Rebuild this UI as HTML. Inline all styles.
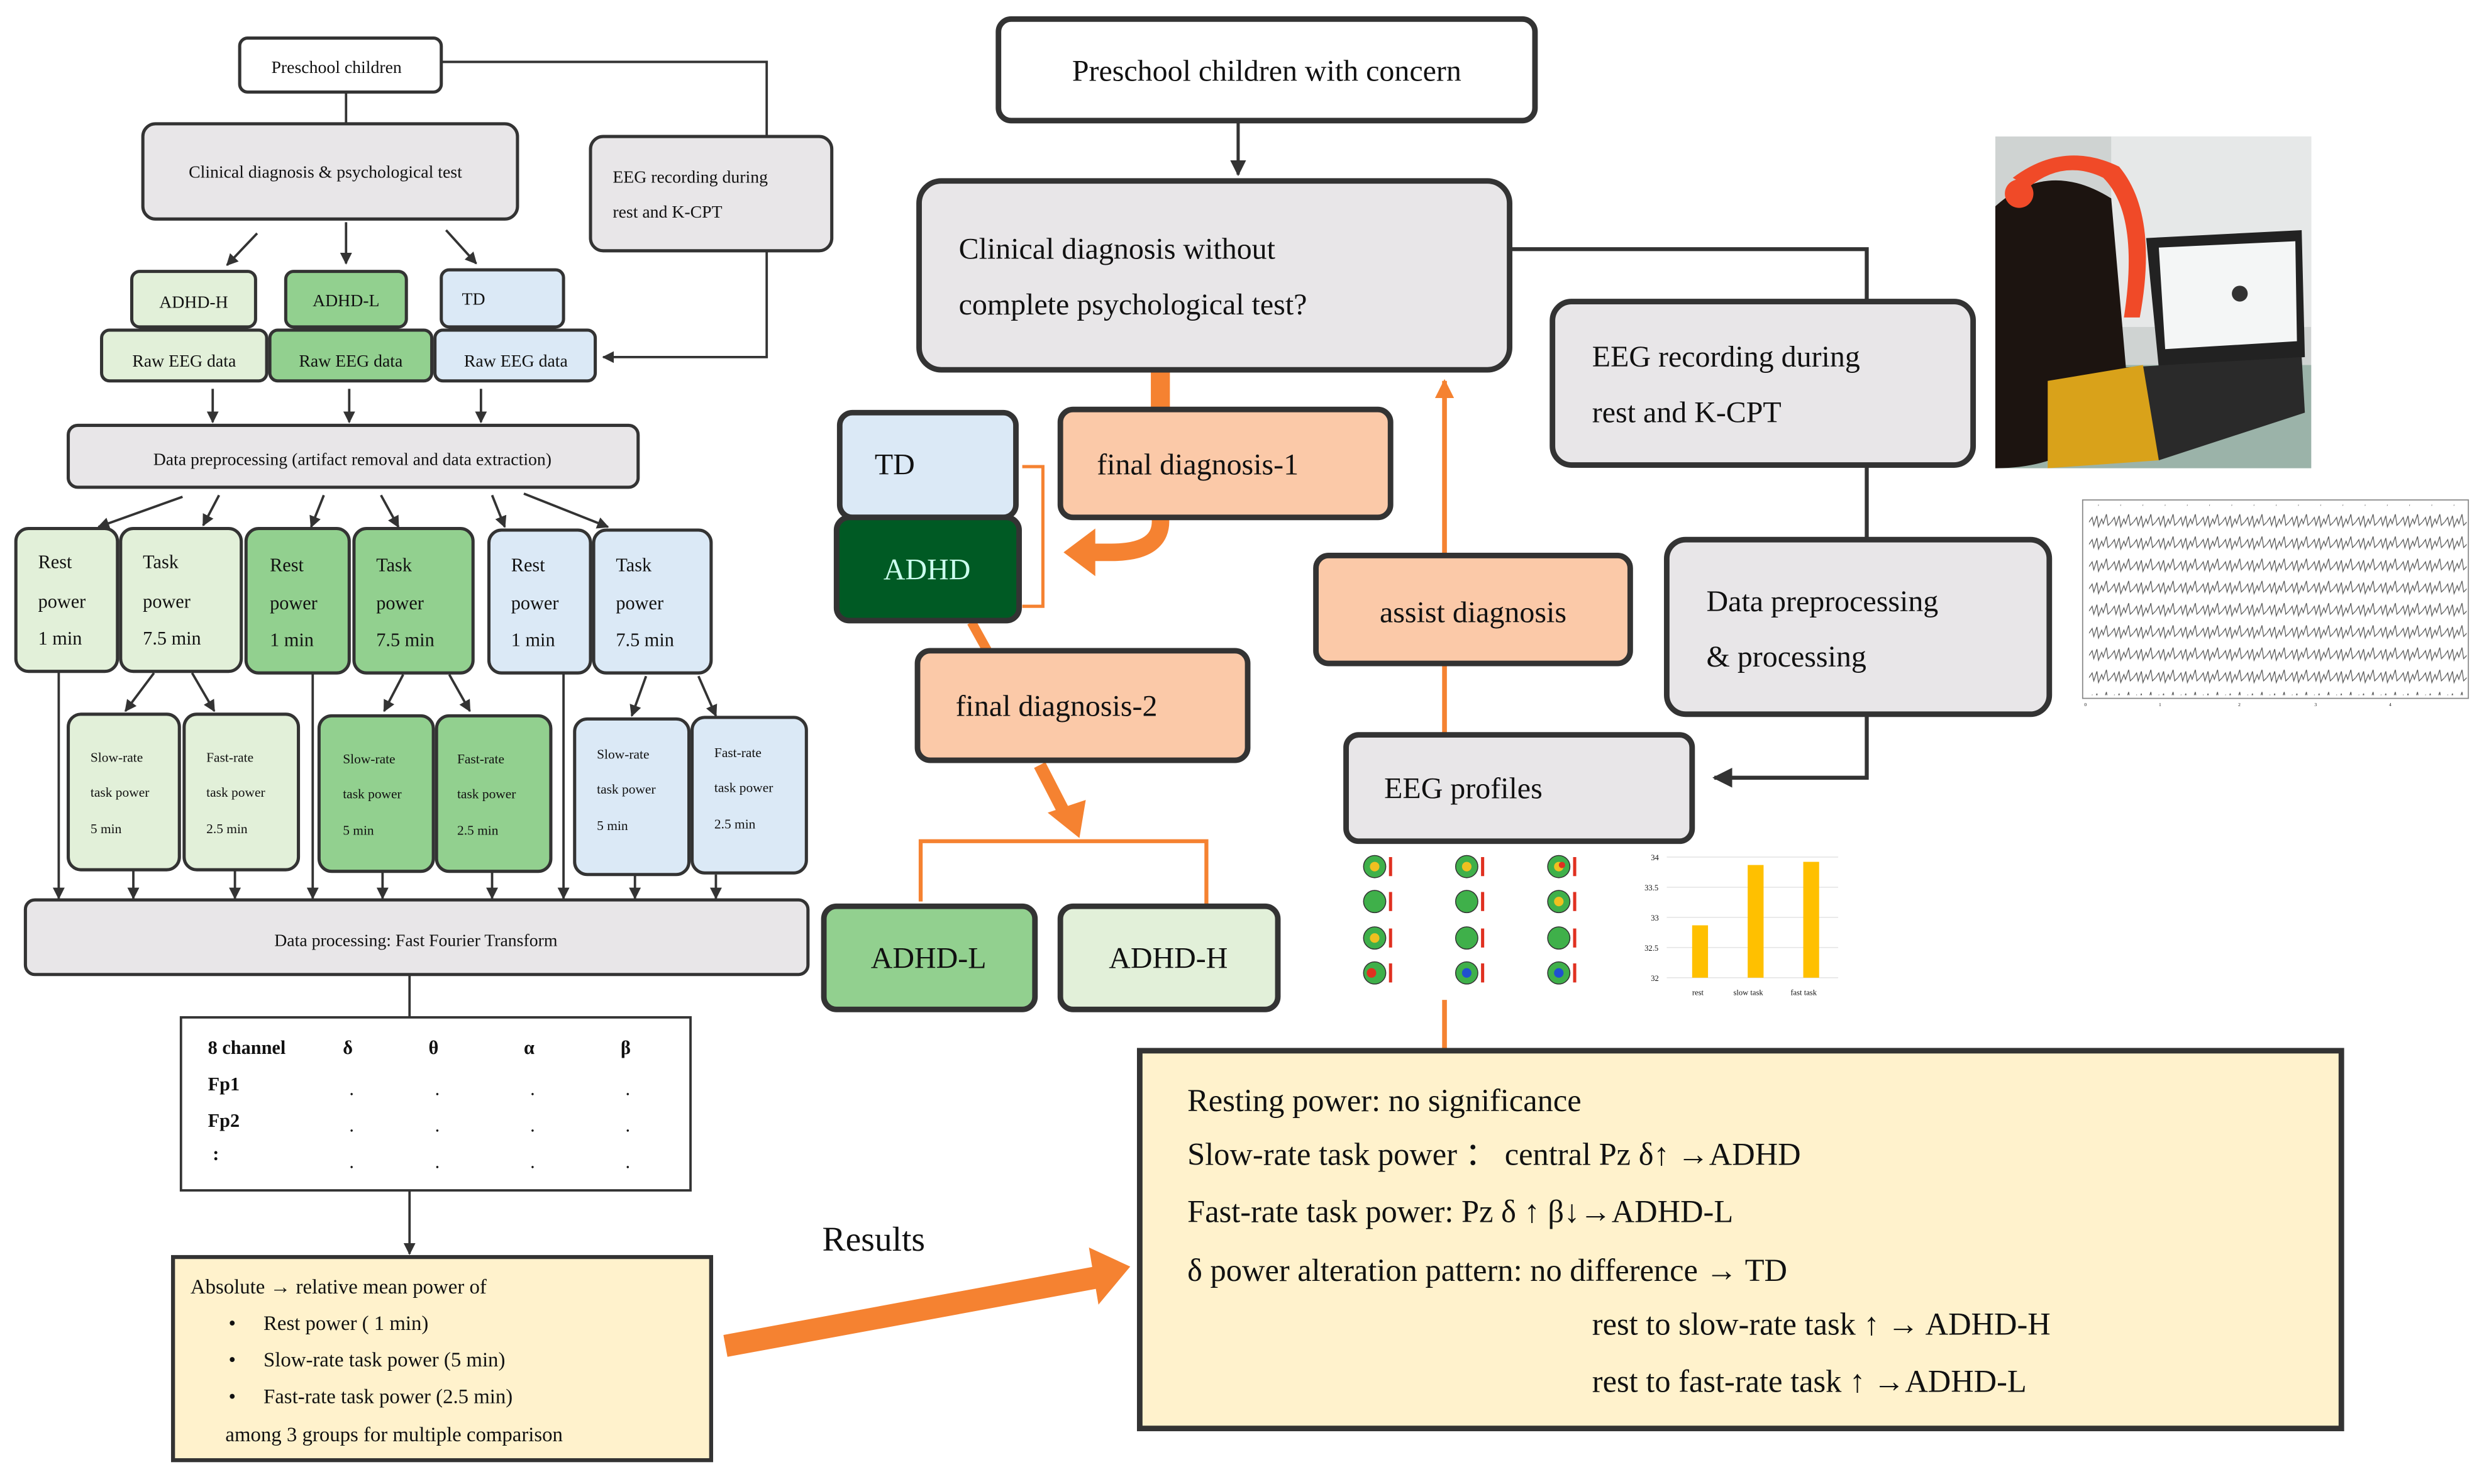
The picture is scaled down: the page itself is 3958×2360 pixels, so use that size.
<!DOCTYPE html>
<html><head><meta charset="utf-8"><style>
html,body{margin:0;padding:0;background:#fff;}
svg{display:block;}
text{font-family:"Liberation Serif",serif;fill:#111;}
</style></head><body>
<svg width="3958" height="2360" viewBox="0 0 1568 935" preserveAspectRatio="none" xmlns="http://www.w3.org/2000/svg">
<defs>
<marker id="ah" viewBox="0 0 10 10" refX="9" refY="5" markerWidth="5" markerHeight="5" orient="auto"><path d="M0,0L10,5L0,10z" fill="#333"/></marker>
<marker id="oh" viewBox="0 0 10 10" refX="9" refY="5" markerWidth="4" markerHeight="4" orient="auto"><path d="M0,0L10,5L0,10z" fill="#f58231"/></marker>
<pattern id="wave" width="14" height="14" patternUnits="userSpaceOnUse"><path d="M0,7 L2,4 L3,9 L5,3 L6,10 L8,5 L9,8 L11,2 L12,9 L14,7" fill="none" stroke="#555" stroke-width="0.5"/></pattern>
</defs>
<g fill="none" stroke="#333" stroke-width="1.5">
<!-- left flow lines -->
<polyline points="278,39 483,39 483,86"/>
<line x1="218" y1="58" x2="218" y2="78"/>
<polyline points="483,158 483,225 380,225" marker-end="url(#ah)"/>
<line x1="162" y1="147" x2="143" y2="167" marker-end="url(#ah)"/>
<line x1="218" y1="140" x2="218" y2="166" marker-end="url(#ah)"/>
<line x1="281" y1="145" x2="300" y2="166" marker-end="url(#ah)"/>
<line x1="134" y1="245" x2="134" y2="266" marker-end="url(#ah)"/>
<line x1="220" y1="245" x2="220" y2="266" marker-end="url(#ah)"/>
<line x1="303" y1="245" x2="303" y2="266" marker-end="url(#ah)"/>
<line x1="115" y1="313" x2="62" y2="332" marker-end="url(#ah)"/>
<line x1="138" y1="312" x2="128" y2="331" marker-end="url(#ah)"/>
<line x1="204" y1="312" x2="196" y2="332" marker-end="url(#ah)"/>
<line x1="240" y1="312" x2="251" y2="332" marker-end="url(#ah)"/>
<line x1="310" y1="312" x2="318" y2="332" marker-end="url(#ah)"/>
<line x1="330" y1="311" x2="383" y2="332" marker-end="url(#ah)"/>
<line x1="37" y1="423" x2="37" y2="566" marker-end="url(#ah)"/>
<line x1="197" y1="423" x2="197" y2="566" marker-end="url(#ah)"/>
<line x1="355" y1="423" x2="355" y2="566" marker-end="url(#ah)"/>
<line x1="97" y1="424" x2="79" y2="448" marker-end="url(#ah)"/>
<line x1="121" y1="424" x2="135" y2="448" marker-end="url(#ah)"/>
<line x1="254" y1="425" x2="242" y2="448" marker-end="url(#ah)"/>
<line x1="283" y1="425" x2="296" y2="448" marker-end="url(#ah)"/>
<line x1="407" y1="426" x2="398" y2="451" marker-end="url(#ah)"/>
<line x1="440" y1="426" x2="451" y2="451" marker-end="url(#ah)"/>
<line x1="84" y1="548" x2="84" y2="566" marker-end="url(#ah)"/>
<line x1="148" y1="548" x2="148" y2="566" marker-end="url(#ah)"/>
<line x1="241" y1="549" x2="241" y2="566" marker-end="url(#ah)"/>
<line x1="310" y1="549" x2="310" y2="566" marker-end="url(#ah)"/>
<line x1="400" y1="551" x2="400" y2="566" marker-end="url(#ah)"/>
<line x1="451" y1="551" x2="451" y2="566" marker-end="url(#ah)"/>
<line x1="258" y1="614" x2="258" y2="641"/>
<line x1="258" y1="750" x2="258" y2="790" marker-end="url(#ah)"/>
<!-- right flow -->
<line x1="780" y1="76" x2="780" y2="110" stroke-width="2" marker-end="url(#ah)"/>
<polyline points="951,157 1176,157 1176,190" stroke-width="2.5"/>
<line x1="1176" y1="293" x2="1176" y2="340" stroke-width="2.5"/>
<polyline points="1176,450 1176,490 1080,490" stroke-width="2.5" marker-end="url(#ah)"/>
</g>
<!-- orange connectors -->
<g fill="none" stroke="#f58231">
<line x1="910" y1="463" x2="910" y2="418" stroke-width="3"/>
<line x1="910" y1="350" x2="910" y2="240" stroke-width="3" marker-end="url(#oh)"/>
<line x1="910" y1="630" x2="910" y2="662" stroke-width="3"/>
<line x1="731" y1="233" x2="731" y2="258" stroke-width="12"/>
<path d="M731,326 Q733,348 700,348 L685,348" stroke-width="11"/>
<polyline points="644,294 657,294 657,382 644,382" stroke-width="2"/>
<line x1="612" y1="392" x2="622" y2="410" stroke-width="6"/>
<line x1="655" y1="482" x2="672" y2="515" stroke-width="8"/>
<polyline points="580,568 580,530 760,530 760,570" stroke-width="2.5"/>
<line x1="457" y1="848" x2="690" y2="805" stroke-width="14"/>
</g>
<path d="M670,348 L690,333 L690,363 Z" fill="#f58231"/>
<path d="M660,512 L684,504 L680,528 Z" fill="#f58231"/>
<path d="M712,798 L686,786 L692,822 Z" fill="#f58231"/>
<!-- left boxes -->
<g stroke="#333" stroke-width="2">
<rect x="151" y="24" width="127" height="34" rx="5" fill="#fff"/>
<rect x="90" y="78" width="236" height="60" rx="8" fill="#e8e6e8"/>
<rect x="372" y="86" width="152" height="72" rx="8" fill="#e8e6e8"/>
<rect x="83" y="171" width="78" height="35" rx="5" fill="#e2f0d9"/>
<rect x="180" y="171" width="76" height="35" rx="5" fill="#92d08f"/>
<rect x="278" y="170" width="77" height="36" rx="5" fill="#dbe9f6"/>
<rect x="64" y="208" width="104" height="32" rx="5" fill="#e2f0d9"/>
<rect x="170" y="208" width="102" height="32" rx="5" fill="#92d08f"/>
<rect x="274" y="208" width="101" height="32" rx="5" fill="#dbe9f6"/>
<rect x="43" y="268" width="359" height="39" rx="6" fill="#e8e6e8"/>
<rect x="10" y="333" width="64" height="90" rx="8" fill="#e2f0d9"/>
<rect x="76" y="333" width="76" height="90" rx="8" fill="#e2f0d9"/>
<rect x="155" y="333" width="65" height="91" rx="8" fill="#92d08f"/>
<rect x="223" y="333" width="75" height="91" rx="8" fill="#92d08f"/>
<rect x="308" y="334" width="64" height="90" rx="8" fill="#dbe9f6"/>
<rect x="374" y="334" width="74" height="90" rx="8" fill="#dbe9f6"/>
<rect x="43" y="450" width="70" height="98" rx="8" fill="#e2f0d9"/>
<rect x="116" y="450" width="72" height="98" rx="8" fill="#e2f0d9"/>
<rect x="201" y="451" width="72" height="98" rx="8" fill="#92d08f"/>
<rect x="275" y="451" width="72" height="98" rx="8" fill="#92d08f"/>
<rect x="362" y="453" width="72" height="98" rx="8" fill="#dbe9f6"/>
<rect x="436" y="452" width="72" height="98" rx="8" fill="#dbe9f6"/>
<rect x="16" y="567" width="493" height="47" rx="6" fill="#e8e6e8"/>
<rect x="114" y="641" width="321" height="109" fill="#fff" stroke-width="1.5"/>
<rect x="109" y="792" width="339" height="128" fill="#fff2cc" stroke-width="2.5"/>
</g>
<!-- right boxes -->
<g stroke="#333" stroke-width="3.5">
<rect x="629" y="12" width="338" height="64" rx="8" fill="#fff"/>
<rect x="579" y="114" width="372" height="119" rx="14" fill="#e8e6e8"/>
<rect x="978" y="190" width="265" height="103" rx="12" fill="#e8e6e8"/>
<rect x="1050" y="340" width="241" height="110" rx="12" fill="#e8e6e8"/>
<rect x="848" y="463" width="218" height="67" rx="8" fill="#e8e6e8"/>
<rect x="829" y="350" width="198" height="68" rx="8" fill="#fbc9a8"/>
<rect x="668" y="258" width="208" height="68" rx="8" fill="#fbc9a8"/>
<rect x="529" y="260" width="111" height="66" rx="8" fill="#dbe9f6"/>
<rect x="527" y="326" width="115" height="65" rx="8" fill="#005a24"/>
<rect x="578" y="410" width="208" height="69" rx="8" fill="#fbc9a8"/>
<rect x="519" y="571" width="133" height="65" rx="8" fill="#92d08f"/>
<rect x="668" y="571" width="137" height="65" rx="8" fill="#e2f0d9"/>
<rect x="718" y="662" width="757" height="238" fill="#fff2cc"/>
</g>
<!-- left texts -->
<g font-size="11">
<text x="212" y="46" text-anchor="middle">Preschool children</text>
<text x="205" y="112" text-anchor="middle">Clinical diagnosis &amp; psychological test</text>
<text x="386" y="115">EEG recording during</text>
<text x="386" y="137">rest and K-CPT</text>
<text x="122" y="194" text-anchor="middle">ADHD-H</text>
<text x="218" y="193" text-anchor="middle">ADHD-L</text>
<text x="291" y="192">TD</text>
<text x="116" y="231" text-anchor="middle">Raw EEG data</text>
<text x="221" y="231" text-anchor="middle">Raw EEG data</text>
<text x="325" y="231" text-anchor="middle">Raw EEG data</text>
<text x="222" y="293" text-anchor="middle">Data preprocessing (artifact removal and data extraction)</text>
<text x="262" y="596" text-anchor="middle">Data processing: Fast Fourier Transform</text>
</g>
<g font-size="12">
<text x="24" y="358">Rest</text><text x="24" y="383">power</text><text x="24" y="406">1 min</text>
<text x="90" y="358">Task</text><text x="90" y="383">power</text><text x="90" y="406">7.5 min</text>
<text x="170" y="360">Rest</text><text x="170" y="384">power</text><text x="170" y="407">1 min</text>
<text x="237" y="360">Task</text><text x="237" y="384">power</text><text x="237" y="407">7.5 min</text>
<text x="322" y="360">Rest</text><text x="322" y="384">power</text><text x="322" y="407">1 min</text>
<text x="388" y="360">Task</text><text x="388" y="384">power</text><text x="388" y="407">7.5 min</text>
</g>
<g font-size="8.5">
<text x="57" y="480">Slow-rate</text><text x="57" y="502">task power</text><text x="57" y="525">5 min</text>
<text x="130" y="480">Fast-rate</text><text x="130" y="502">task power</text><text x="130" y="525">2.5 min</text>
<text x="216" y="481">Slow-rate</text><text x="216" y="503">task power</text><text x="216" y="526">5 min</text>
<text x="288" y="481">Fast-rate</text><text x="288" y="503">task power</text><text x="288" y="526">2.5 min</text>
<text x="376" y="478">Slow-rate</text><text x="376" y="500">task power</text><text x="376" y="523">5 min</text>
<text x="450" y="477">Fast-rate</text><text x="450" y="499">task power</text><text x="450" y="522">2.5 min</text>
</g>
<g font-size="12" font-weight="bold">
<text x="131" y="664">8 channel</text><text x="216" y="664">δ</text><text x="270" y="664">θ</text><text x="330" y="664">α</text><text x="391" y="664">β</text>
<text x="131" y="687">Fp1</text><text x="131" y="710">Fp2</text><text x="134" y="731">:</text>
</g>
<g font-size="12">
<text x="220" y="690">.</text><text x="274" y="690">.</text><text x="334" y="690">.</text><text x="394" y="690">.</text>
<text x="220" y="713">.</text><text x="274" y="713">.</text><text x="334" y="713">.</text><text x="394" y="713">.</text>
<text x="220" y="736">.</text><text x="274" y="736">.</text><text x="334" y="736">.</text><text x="394" y="736">.</text>
</g>
<g font-size="13">
<text x="120" y="815">Absolute → relative mean power of</text>
<text x="144" y="838">•</text><text x="166" y="838">Rest power ( 1 min)</text>
<text x="144" y="861">•</text><text x="166" y="861">Slow-rate task power (5 min)</text>
<text x="144" y="884">•</text><text x="166" y="884">Fast-rate task power (2.5 min)</text>
<text x="142" y="908">among 3 groups for multiple comparison</text>
</g>
<!-- right texts -->
<g font-size="19">
<text x="798" y="51" text-anchor="middle">Preschool children with concern</text>
<text x="604" y="163">Clinical diagnosis without</text>
<text x="604" y="198">complete psychological test?</text>
<text x="1003" y="231">EEG recording   during</text>
<text x="1003" y="266">rest and K-CPT</text>
<text x="1075" y="385">Data preprocessing</text>
<text x="1075" y="420">&amp; processing</text>
<text x="872" y="503">EEG profiles</text>
<text x="928" y="392" text-anchor="middle">assist diagnosis</text>
<text x="691" y="299">final diagnosis-1</text>
<text x="551" y="299">TD</text>
<text x="584" y="365" text-anchor="middle" style="fill:#cfe">ADHD</text>
<text x="602" y="451">final diagnosis-2</text>
<text x="585" y="610" text-anchor="middle">ADHD-L</text>
<text x="736" y="610" text-anchor="middle">ADHD-H</text>
<text x="518" y="788" font-size="22">Results</text>
</g>
<g font-size="20">
<text x="748" y="700">Resting power: no significance</text>
<text x="748" y="734">Slow-rate task power ： central Pz δ↑ →ADHD</text>
<text x="748" y="770">Fast-rate task power:  Pz δ ↑ β↓→ADHD-L</text>
<text x="748" y="807">δ power alteration pattern: no difference → TD</text>
<text x="1003" y="841">rest to slow-rate task  ↑   → ADHD-H</text>
<text x="1003" y="877">rest to fast-rate task  ↑ →ADHD-L</text>
</g>
<!-- photo -->
<rect x="1257" y="86" width="199" height="209" fill="#cfd3d2"/>
<rect x="1330" y="86" width="126" height="120" fill="#e6e8e8"/>
<rect x="1257" y="230" width="199" height="65" fill="#9bb3a9"/>
<path d="M1352,150 L1450,145 L1452,225 L1360,232 Z" fill="#222"/>
<path d="M1360,156 L1446,152 L1447,215 L1364,220 Z" fill="#f4f6f6"/>
<circle cx="1411" cy="185" r="5" fill="#333"/>
<path d="M1330,232 L1450,225 L1452,260 L1360,290 L1330,270 Z" fill="#2a2a2a"/>
<path d="M1257,130 Q1290,100 1330,125 L1340,240 Q1320,295 1257,295 Z" fill="#1c1410"/>
<path d="M1290,240 L1350,230 L1360,290 L1290,295 Z" fill="#d9a21a"/>
<path d="M1268,112 Q1300,88 1335,105 Q1360,135 1348,200 L1338,200 Q1348,135 1325,112 Q1300,100 1278,118 Z" fill="#f04a28"/>
<circle cx="1272" cy="122" r="9" fill="#f04a28"/>
<!-- EEG plot -->
<rect x="1312" y="315" width="243" height="125" fill="#fff" stroke="#888" stroke-width="0.7"/>
<rect x="1316" y="318" width="238" height="120" fill="url(#wave)"/>
<g font-size="3" style="fill:#555"><text x="1313" y="445">0</text><text x="1360" y="445">1</text><text x="1410" y="445">2</text><text x="1458" y="445">3</text><text x="1505" y="445">4</text></g>
<!-- topomaps -->
<g stroke="#333" stroke-width="0.6">
<g fill="#3fb04a"><circle cx="866" cy="546" r="7"/><circle cx="924" cy="546" r="7"/><circle cx="982" cy="546" r="7"/>
<circle cx="866" cy="568" r="7"/><circle cx="924" cy="568" r="7"/><circle cx="982" cy="568" r="7"/>
<circle cx="866" cy="591" r="7"/><circle cx="924" cy="591" r="7"/><circle cx="982" cy="591" r="7"/>
<circle cx="866" cy="613" r="7"/><circle cx="924" cy="613" r="7"/><circle cx="982" cy="613" r="7"/></g>
</g>
<g fill="#f0c020"><circle cx="866" cy="546" r="3"/><circle cx="924" cy="546" r="3"/><circle cx="982" cy="546" r="3"/><circle cx="866" cy="591" r="3"/><circle cx="982" cy="568" r="3"/></g>
<g fill="#e03020"><circle cx="864" cy="613" r="3"/><circle cx="984" cy="545" r="2"/></g>
<g fill="#2050d0"><circle cx="924" cy="613" r="3"/><circle cx="982" cy="613" r="3"/></g>
<g fill="#e03020"><rect x="875" y="540" width="2" height="12"/><rect x="933" y="540" width="2" height="12"/><rect x="991" y="540" width="2" height="12"/><rect x="875" y="562" width="2" height="12"/><rect x="933" y="562" width="2" height="12"/><rect x="991" y="562" width="2" height="12"/><rect x="875" y="585" width="2" height="12"/><rect x="933" y="585" width="2" height="12"/><rect x="991" y="585" width="2" height="12"/><rect x="875" y="607" width="2" height="12"/><rect x="933" y="607" width="2" height="12"/><rect x="991" y="607" width="2" height="12"/></g>
<!-- bar chart -->
<g stroke="#ddd" stroke-width="0.5"><line x1="1050" y1="540" x2="1158" y2="540"/><line x1="1050" y1="559" x2="1158" y2="559"/><line x1="1050" y1="578" x2="1158" y2="578"/><line x1="1050" y1="597" x2="1158" y2="597"/><line x1="1050" y1="616" x2="1158" y2="616"/></g>
<g fill="#ffc000"><rect x="1066" y="583" width="10" height="33"/><rect x="1101" y="545" width="10" height="71"/><rect x="1136" y="543" width="10" height="73"/></g>
<g font-size="5" style="fill:#444"><text x="1040" y="542">34</text><text x="1036" y="561">33.5</text><text x="1040" y="580">33</text><text x="1036" y="599">32.5</text><text x="1040" y="618">32</text>
<text x="1066" y="627">rest</text><text x="1092" y="627">slow task</text><text x="1128" y="627">fast task</text></g>
</svg>
</body></html>
